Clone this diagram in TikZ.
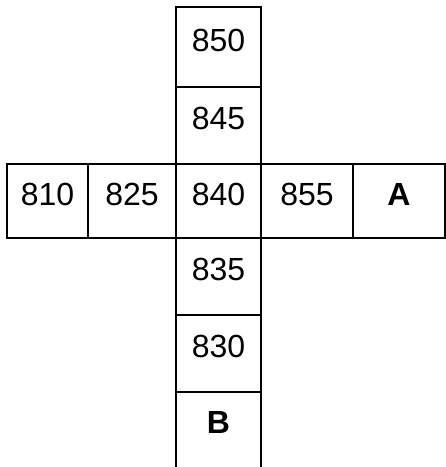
\documentclass[tikz,border=0pt]{standalone}
\usepackage{fontspec}
\setmainfont{Liberation Sans}
\usepackage{tikz}
\usetikzlibrary{positioning}

\begin{document}
\begin{tikzpicture}[
            x=1pt, y=1pt,
            cell/.style={draw, line width=1.6pt, inner sep=0pt, outer sep=0pt,
                font=\fontsize{32}{32}\selectfont, text height=23pt, text depth=15pt,
                minimum width=85pt, minimum height=77pt},
            open/.style={cell, draw=none}
        ]
        \useasboundingbox (0,0) rectangle (446,-467);

        % --- Fila horizontal ---
        \node[cell, minimum height=74pt] (c840) at (218.5,-201) {840};
        \node[cell, minimum height=74pt, minimum width=88pt, left=0pt of c840] (c825) {825};
        \node[cell, minimum height=74pt, minimum width=81pt, left=0pt of c825] (c810) {810};
        \node[cell, minimum height=74pt, minimum width=92pt, right=0pt of c840] (c855) {855};
        \node[cell, minimum height=74pt, minimum width=92pt, right=0pt of c855] (cA) {\textbf{A}};

        % --- Columna vertical ---
        \node[cell, above=0pt of c840] (c845) {845};
        \node[cell, minimum height=80pt, above=0pt of c845] (c850) {850};
        \node[cell, below=0pt of c840] (c835) {835};
        \node[cell, below=0pt of c835] (c830) {830};
        \node[open, minimum height=75pt, below=0pt of c830] (cB) {\textbf{B}};

        % La celda B queda abierta por abajo
        \draw[line width=1.6pt] (cB.south west) -- (cB.north west);
        \draw[line width=1.6pt] (cB.south east) -- (cB.north east);

        \end{tikzpicture}
\end{document}
